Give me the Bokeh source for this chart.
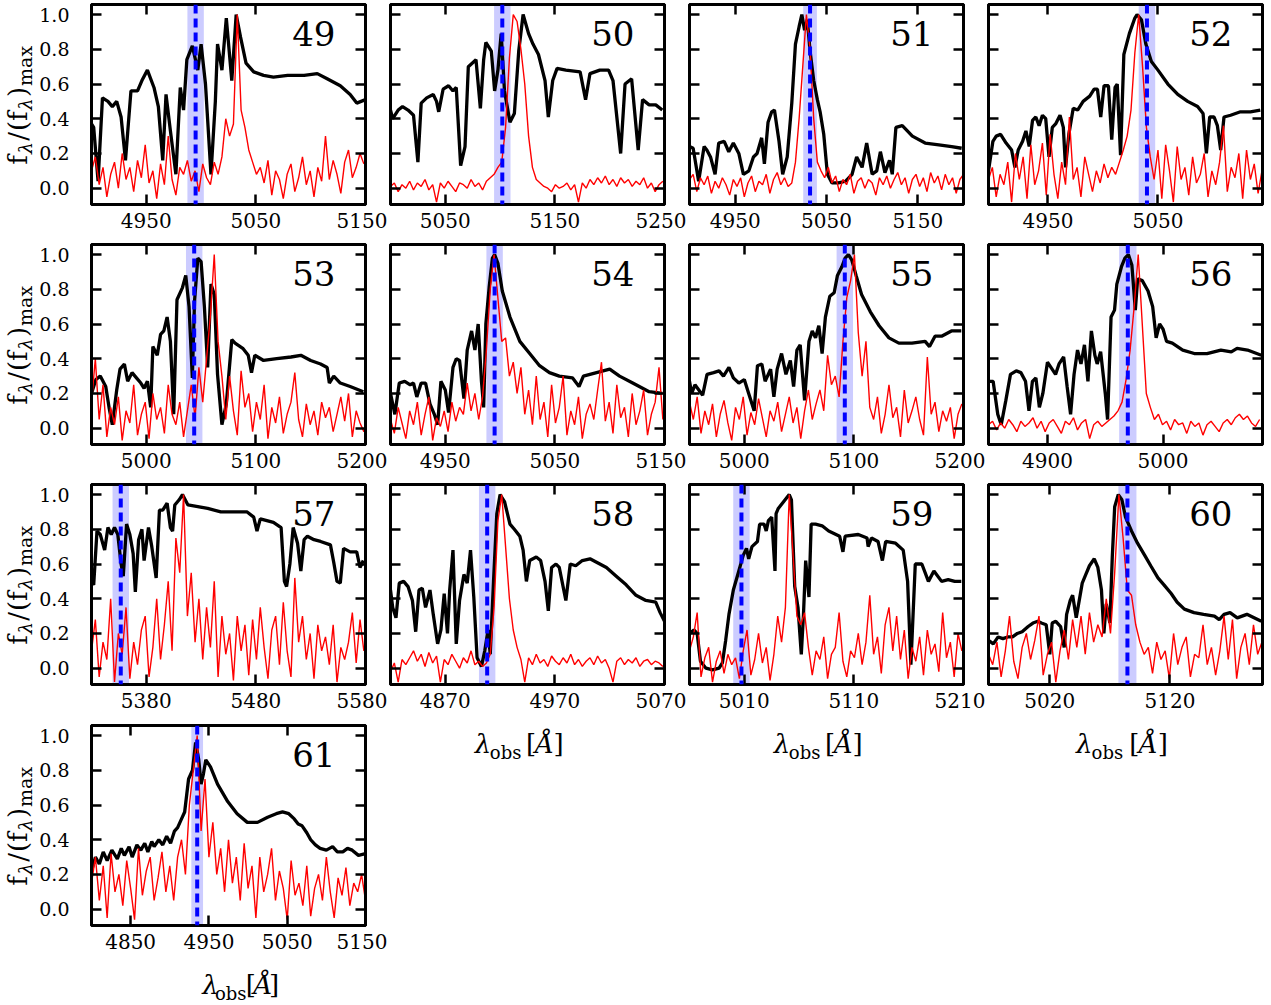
import math
from bokeh.plotting import figure
from bokeh.layouts import row, column
from bokeh.models import (Range1d, FixedTicker, PrintfTickFormatter, LinearAxis,
                          Label, Span, BoxAnnotation)
from bokeh.embed import file_html
from bokeh.resources import INLINE

# ---------------- data ----------------
PANEL_IDS = [49, 50, 51, 52, 53, 54, 55, 56, 57, 58, 59, 60, 61]
X_RANGES = {49: (4900, 5150), 50: (5000, 5250), 51: (4900, 5200), 52: (4896, 5145),
            53: (4950, 5200), 54: (4900, 5150), 55: (4950, 5200), 56: (4849, 5086),
            57: (5330, 5580), 58: (4820, 5070), 59: (4960, 5210), 60: (4969, 5197),
            61: (4800, 5150)}
X_TICKS = {49: [4950, 5050, 5150], 50: [5050, 5150, 5250], 51: [4950, 5050, 5150],
           52: [4950, 5050], 53: [5000, 5100, 5200], 54: [4950, 5050, 5150],
           55: [5000, 5100, 5200], 56: [4900, 5000], 57: [5380, 5480, 5580],
           58: [4870, 4970, 5070], 59: [5010, 5110, 5210], 60: [5020, 5120],
           61: [4850, 4950, 5050, 5150]}
LINE_CENTER = {49: 4995, 50: 5102, 51: 5032, 52: 5040, 53: 5043.7, 54: 4995, 55: 5091.7,
               56: 4969.5, 57: 5356.7, 58: 4908.2, 59: 5007.4, 60: 5084.6, 61: 4935}
BAND_HALF_WIDTH = 7.5
Y_TICKS = [0.0, 0.2, 0.4, 0.6, 0.8, 1.0]

# black (broad-band) spectra: wavelength / normalised flux
B49_WL = [4900,4902,4906,4910,4915,4919,4923,4927,4931,4936,4942,4946,4951,4957,4961,4965,4968,4972,4977,4981,4984,4987,4992,4997,5000,5004,5009,5013,5015,5019,5023,5028,5032,5036,5041,5048,5057,5066,5079,5094,5106,5115,5127,5136,5142,5150]
B49_FL = [0.37,0.35,0.04,0.52,0.50,0.47,0.50,0.41,0.16,0.56,0.56,0.62,0.68,0.58,0.47,0.16,0.54,0.33,0.08,0.58,0.45,0.74,0.82,0.68,0.83,0.60,0.08,0.50,0.83,0.68,0.98,0.62,1.00,0.87,0.72,0.67,0.65,0.64,0.65,0.65,0.66,0.63,0.59,0.54,0.49,0.51]
B50_WL = [5000,5002,5007,5011,5016,5021,5025,5028,5033,5039,5042,5044,5048,5053,5057,5060,5064,5068,5071,5078,5082,5085,5087,5092,5095,5098,5101,5104,5109,5113,5117,5121,5126,5130,5135,5141,5144,5148,5152,5160,5173,5178,5182,5191,5199,5203,5210,5214,5220,5226,5230,5236,5242,5248]
B50_FL = [0.45,0.40,0.45,0.47,0.45,0.42,0.15,0.49,0.52,0.54,0.50,0.44,0.57,0.59,0.56,0.58,0.13,0.24,0.70,0.74,0.46,0.74,0.84,0.79,0.56,0.68,0.89,0.56,0.38,0.43,0.79,1.00,0.89,0.83,0.77,0.62,0.41,0.62,0.69,0.68,0.67,0.51,0.66,0.68,0.68,0.62,0.20,0.60,0.63,0.22,0.51,0.48,0.48,0.45]
B51_WL = [4900,4904,4910,4916,4919,4923,4928,4932,4938,4943,4948,4954,4959,4965,4970,4974,4979,4982,4986,4990,4993,4998,5002,5007,5012,5016,5020,5023,5026,5029,5032,5036,5040,5043,5047,5051,5056,5063,5071,5078,5083,5089,5094,5100,5105,5109,5114,5119,5122,5126,5133,5144,5158,5173,5187,5198]
B51_FL = [0.24,0.23,0.04,0.24,0.22,0.18,0.08,0.26,0.27,0.21,0.26,0.20,0.08,0.10,0.18,0.20,0.29,0.14,0.38,0.44,0.45,0.27,0.08,0.18,0.49,0.83,0.93,1.00,0.91,0.97,0.79,0.62,0.51,0.44,0.31,0.08,0.03,0.03,0.04,0.08,0.18,0.12,0.26,0.08,0.10,0.21,0.09,0.16,0.08,0.35,0.36,0.30,0.26,0.25,0.24,0.23]
B52_WL = [4896,4900,4903,4907,4912,4917,4920,4923,4927,4930,4933,4936,4939,4942,4945,4948,4951,4954,4957,4961,4964,4966,4969,4973,4977,4982,4988,4992,4995,4998,5001,5005,5008,5011,5013,5016,5019,5024,5029,5031,5035,5039,5044,5050,5059,5068,5077,5086,5091,5094,5097,5101,5104,5107,5110,5116,5125,5134,5143]
B52_FL = [0.10,0.27,0.30,0.31,0.26,0.22,0.12,0.22,0.27,0.33,0.24,0.39,0.41,0.36,0.42,0.40,0.18,0.35,0.37,0.42,0.35,0.12,0.31,0.46,0.45,0.50,0.53,0.57,0.57,0.41,0.59,0.59,0.28,0.58,0.60,0.19,0.77,0.89,0.98,1.00,0.97,0.83,0.73,0.68,0.60,0.54,0.50,0.47,0.43,0.20,0.41,0.41,0.36,0.22,0.41,0.42,0.44,0.44,0.45]
B53_WL = [4950,4954,4958,4963,4966,4969,4973,4976,4980,4983,4987,4991,4995,4998,5001,5004,5006,5010,5013,5016,5019,5022,5025,5028,5033,5036,5039,5042,5044,5047,5050,5053,5056,5059,5062,5065,5069,5073,5078,5081,5088,5093,5096,5099,5107,5119,5132,5141,5150,5159,5165,5167,5171,5177,5186,5198]
B53_FL = [0.20,0.28,0.30,0.24,0.12,0.02,0.22,0.34,0.37,0.27,0.32,0.29,0.26,0.23,0.27,0.12,0.47,0.42,0.54,0.56,0.64,0.50,0.08,0.74,0.81,0.88,0.70,0.29,0.73,0.98,0.96,0.70,0.35,0.83,0.77,0.31,0.02,0.14,0.51,0.49,0.46,0.42,0.32,0.42,0.39,0.40,0.41,0.42,0.39,0.37,0.35,0.26,0.30,0.26,0.24,0.21]
B54_WL = [4900,4904,4908,4913,4918,4921,4924,4928,4932,4936,4940,4943,4946,4950,4953,4957,4960,4963,4967,4970,4974,4977,4980,4983,4985,4987,4990,4993,4995,4998,5002,5009,5018,5027,5036,5045,5054,5066,5072,5076,5088,5100,5109,5121,5136,5148]
B54_FL = [0.20,0.08,0.26,0.27,0.25,0.26,0.18,0.26,0.26,0.14,0.08,0.02,0.27,0.22,0.09,0.35,0.40,0.39,0.17,0.45,0.56,0.45,0.60,0.27,0.12,0.60,0.81,0.98,1.00,0.95,0.79,0.64,0.50,0.43,0.36,0.32,0.30,0.29,0.24,0.30,0.32,0.34,0.30,0.26,0.21,0.20]
B55_WL = [4950,4952,4955,4962,4966,4972,4977,4981,4986,4990,4995,5000,5004,5009,5012,5016,5019,5024,5027,5030,5034,5038,5042,5045,5048,5051,5055,5059,5062,5065,5068,5071,5074,5078,5082,5085,5089,5092,5095,5098,5102,5107,5115,5123,5132,5141,5153,5165,5169,5174,5180,5189,5198]
B55_FL = [0.27,0.20,0.25,0.19,0.31,0.32,0.33,0.30,0.35,0.29,0.26,0.28,0.20,0.10,0.36,0.37,0.27,0.34,0.18,0.34,0.43,0.31,0.39,0.24,0.45,0.48,0.16,0.50,0.56,0.52,0.59,0.43,0.64,0.76,0.78,0.88,0.93,0.98,1.00,0.97,0.88,0.77,0.67,0.59,0.52,0.49,0.49,0.50,0.47,0.53,0.53,0.56,0.56]
B56_WL = [4849,4853,4857,4860,4864,4868,4873,4877,4881,4884,4887,4890,4893,4896,4900,4903,4907,4910,4914,4917,4920,4923,4926,4929,4932,4935,4938,4941,4943,4946,4950,4952,4955,4958,4960,4964,4967,4970,4973,4976,4978,4982,4987,4991,4994,4997,5000,5003,5008,5017,5027,5038,5050,5059,5064,5073,5085]
B56_FL = [0.27,0.27,0.08,0.02,0.16,0.31,0.33,0.32,0.27,0.10,0.27,0.29,0.12,0.20,0.38,0.35,0.31,0.37,0.41,0.24,0.08,0.31,0.45,0.37,0.48,0.27,0.56,0.42,0.37,0.44,0.20,0.05,0.64,0.68,0.83,0.93,0.98,1.00,0.94,0.68,0.86,0.85,0.79,0.70,0.52,0.60,0.57,0.50,0.49,0.45,0.43,0.43,0.45,0.44,0.46,0.45,0.42]
B57_WL = [5330,5332,5335,5338,5342,5345,5348,5351,5354,5357,5359,5362,5365,5368,5370,5373,5376,5378,5382,5385,5389,5392,5395,5399,5402,5404,5406,5410,5413,5418,5427,5436,5448,5460,5472,5478,5481,5484,5496,5503,5506,5508,5511,5514,5518,5521,5524,5527,5533,5539,5548,5551,5554,5557,5560,5566,5572,5575,5578]
B57_FL = [0.50,0.48,0.79,0.77,0.68,0.81,0.77,0.81,0.77,0.60,0.53,0.83,0.77,0.66,0.44,0.74,0.80,0.62,0.81,0.70,0.52,0.91,0.91,0.95,0.81,0.79,0.94,0.97,1.00,0.94,0.93,0.92,0.90,0.90,0.90,0.87,0.79,0.86,0.84,0.81,0.50,0.47,0.60,0.81,0.72,0.56,0.74,0.76,0.74,0.73,0.71,0.61,0.50,0.49,0.69,0.67,0.67,0.58,0.62]
B58_WL = [4820,4822,4825,4828,4832,4836,4840,4843,4846,4849,4852,4856,4859,4863,4866,4869,4872,4874,4877,4880,4883,4887,4890,4893,4896,4899,4903,4906,4909,4911,4914,4917,4920,4924,4929,4933,4938,4941,4944,4947,4953,4957,4961,4964,4967,4971,4974,4980,4984,4989,4995,5002,5008,5017,5026,5035,5044,5053,5062,5066,5070]
B58_FL = [0.45,0.35,0.29,0.49,0.50,0.47,0.39,0.21,0.45,0.46,0.35,0.45,0.31,0.14,0.22,0.43,0.20,0.45,0.68,0.14,0.39,0.54,0.49,0.68,0.41,0.06,0.01,0.10,0.22,0.08,0.50,0.89,1.00,0.96,0.83,0.80,0.76,0.68,0.50,0.62,0.64,0.62,0.50,0.33,0.58,0.60,0.58,0.39,0.60,0.59,0.62,0.63,0.61,0.58,0.53,0.48,0.42,0.39,0.38,0.32,0.27]
B59_WL = [4960,4964,4967,4970,4975,4981,4987,4990,4993,4996,5000,5005,5009,5012,5014,5017,5022,5024,5028,5030,5032,5035,5038,5039,5041,5046,5051,5053,5056,5059,5062,5064,5066,5069,5071,5075,5081,5087,5097,5100,5102,5114,5122,5123,5126,5132,5136,5139,5148,5155,5159,5162,5166,5172,5178,5183,5190,5196,5202,5208]
B59_FL = [0.20,0.22,0.20,0.04,0.00,-0.01,0.00,0.03,0.16,0.31,0.45,0.56,0.65,0.69,0.63,0.70,0.73,0.83,0.83,0.79,0.85,0.87,0.56,0.89,0.92,0.96,1.00,0.97,0.47,0.35,0.08,0.31,0.62,0.41,0.83,0.83,0.82,0.79,0.76,0.67,0.76,0.77,0.75,0.70,0.75,0.73,0.62,0.73,0.72,0.68,0.50,0.02,0.60,0.60,0.50,0.56,0.50,0.51,0.50,0.50]
B60_WL = [4969,4973,4977,4981,4985,4989,4993,4997,5002,5006,5010,5013,5017,5020,5022,5025,5029,5032,5034,5037,5039,5042,5044,5047,5050,5053,5057,5060,5063,5065,5067,5070,5072,5074,5077,5080,5083,5088,5093,5099,5104,5110,5115,5121,5126,5132,5140,5148,5157,5161,5165,5170,5176,5184,5196]
B60_FL = [0.16,0.14,0.18,0.17,0.18,0.18,0.20,0.21,0.24,0.26,0.27,0.26,0.25,0.08,0.26,0.27,0.24,0.12,0.31,0.39,0.42,0.29,0.37,0.49,0.54,0.59,0.63,0.58,0.45,0.20,0.37,0.26,0.64,0.93,1.00,0.97,0.87,0.79,0.72,0.65,0.59,0.52,0.48,0.43,0.38,0.34,0.32,0.31,0.30,0.28,0.31,0.32,0.29,0.31,0.27]
B61_WL = [4800,4805,4810,4815,4820,4826,4833,4838,4842,4848,4852,4858,4863,4868,4872,4877,4880,4886,4891,4896,4901,4906,4910,4915,4919,4924,4929,4933,4937,4940,4943,4946,4952,4961,4974,4986,4999,5012,5025,5036,5044,5052,5059,5064,5069,5075,5080,5086,5092,5100,5108,5114,5121,5127,5133,5141,5150]
B61_FL = [0.22,0.30,0.26,0.33,0.28,0.34,0.29,0.35,0.31,0.36,0.30,0.37,0.34,0.38,0.33,0.39,0.36,0.40,0.37,0.42,0.38,0.45,0.47,0.52,0.56,0.75,0.80,0.96,0.86,0.72,0.78,0.86,0.82,0.72,0.62,0.55,0.50,0.50,0.53,0.55,0.56,0.55,0.52,0.49,0.48,0.44,0.40,0.37,0.35,0.34,0.36,0.33,0.33,0.35,0.34,0.31,0.32]

# red (narrow-band) spectra: start wavelength, step, normalised flux
R_START = {49: 4900, 50: 5000, 51: 4900, 52: 4896, 53: 4950, 54: 4900, 55: 4950,
           56: 4849, 57: 5330, 58: 4820, 59: 4960, 60: 4969, 61: 4800}
R_STEP = {49: 3.5, 50: 3.5, 51: 4.0, 52: 3.5, 53: 3.5, 54: 3.5, 55: 3.5,
          56: 3.5, 57: 3.5, 58: 3.5, 59: 3.5, 60: 3.5, 61: 5.0}
R49 = [0.10,0.18,0.02,0.12,-0.05,0.08,0.15,0.00,0.20,0.05,0.12,-0.02,0.16,0.06,0.25,0.03,0.10,-0.06,0.14,0.02,0.30,0.05,-0.04,0.12,0.08,0.16,0.04,0.10,-0.02,0.14,0.06,0.02,0.15,0.08,0.18,0.40,0.30,0.37,1.00,0.45,0.35,0.22,0.15,0.08,0.12,0.03,0.16,-0.04,0.10,0.05,-0.06,0.08,0.14,-0.02,0.06,0.18,0.02,0.10,-0.05,0.12,0.04,0.30,0.05,0.16,0.08,-0.03,0.15,0.22,0.06,0.12,0.20,0.14]
R50 = [0.01,0.03,-0.02,0.02,0.00,0.04,-0.01,0.03,0.01,0.05,-0.01,0.02,-0.08,0.03,0.00,0.04,0.01,-0.02,0.03,0.02,0.00,0.05,0.01,0.03,-0.01,0.04,0.06,0.08,0.12,0.15,0.35,0.75,1.00,0.96,0.80,0.60,0.30,0.12,0.05,0.03,0.01,0.00,-0.02,0.02,0.00,0.01,0.03,-0.01,0.02,-0.08,0.03,0.00,0.05,0.02,0.06,0.03,0.07,0.02,0.05,0.01,0.06,0.03,0.05,0.01,0.04,0.02,0.06,0.00,0.03,-0.02,0.02,0.04]
R51 = [0.05,0.08,-0.02,0.06,0.02,0.07,-0.03,0.04,0.00,0.06,0.02,-0.04,0.05,0.01,0.06,-0.05,0.03,0.07,-0.02,0.04,0.02,0.08,-0.03,0.05,0.09,0.02,0.06,0.01,0.03,0.15,0.40,0.70,1.00,0.80,0.40,0.15,0.10,0.06,0.12,0.03,0.07,-0.02,0.05,0.02,0.08,-0.03,0.04,0.06,0.00,0.05,0.03,-0.04,0.06,0.02,0.07,0.00,0.05,0.09,0.02,0.06,-0.03,0.05,0.08,0.01,0.06,-0.02,0.09,0.03,0.07,-0.01,0.08,0.02,0.06,-0.03,0.05,0.08]
R52 = [0.05,0.12,-0.05,0.08,0.02,0.15,-0.08,0.20,0.05,0.18,-0.06,0.25,0.02,0.10,0.26,-0.04,0.31,0.08,-0.06,0.15,0.02,0.41,0.05,0.12,-0.05,0.18,0.08,-0.02,0.10,0.03,0.14,0.06,0.12,0.08,0.15,0.22,0.30,0.45,0.78,1.00,0.70,0.35,0.18,0.05,0.22,-0.06,0.25,0.10,-0.08,0.24,0.05,0.12,-0.04,0.18,0.03,0.08,0.20,-0.05,0.10,0.02,0.15,0.36,-0.02,0.12,0.06,0.20,-0.06,0.22,0.05,0.14,-0.03,0.10,0.18]
R53 = [0.15,0.40,0.05,0.25,-0.05,0.12,0.02,0.18,-0.07,0.10,0.03,0.25,-0.04,0.08,0.15,-0.06,0.20,0.05,0.12,-0.03,0.25,0.08,0.02,0.15,-0.05,0.10,0.25,0.06,0.35,0.15,0.40,0.65,1.00,0.50,0.30,0.05,0.30,0.10,-0.04,0.33,0.12,0.20,-0.02,0.15,0.05,0.25,-0.06,0.12,0.03,0.18,-0.03,0.08,0.15,0.32,0.05,-0.05,0.14,0.02,0.10,-0.04,0.15,0.06,0.12,-0.02,0.08,0.18,0.04,0.20,-0.05,0.10,0.03,-0.02,0.05]
R54 = [0.05,-0.03,0.12,0.03,-0.06,0.10,0.02,0.15,-0.04,0.08,0.18,-0.07,0.06,0.01,0.10,-0.02,0.15,0.04,0.12,0.08,0.26,0.10,0.20,0.05,0.18,0.45,0.80,1.00,0.75,0.50,0.52,0.30,0.38,0.20,0.35,0.08,0.22,0.02,0.30,0.05,0.15,-0.05,0.25,0.03,0.12,0.30,-0.04,0.10,0.02,0.18,-0.06,0.08,0.14,0.05,0.22,0.38,0.04,0.15,-0.03,0.25,0.06,0.12,-0.05,0.20,0.02,0.10,0.22,-0.04,0.08,0.15,0.35,0.05]
R55 = [0.15,0.05,0.18,-0.03,0.10,0.02,0.14,-0.05,0.08,0.16,0.03,-0.07,0.12,0.05,0.18,-0.04,0.09,0.02,0.17,0.06,-0.05,0.10,0.04,0.15,-0.02,0.08,0.18,0.03,0.12,-0.06,0.10,0.22,0.05,0.14,0.22,0.10,0.42,0.25,0.30,0.18,0.50,0.75,0.85,1.00,0.55,0.30,0.50,0.12,0.05,0.18,-0.03,0.08,0.25,0.06,0.12,-0.05,0.22,0.03,0.10,0.18,0.05,-0.04,0.41,0.08,0.15,-0.02,0.10,0.04,0.12,-0.06,0.08,0.14]
R56 = [0.02,0.04,-0.01,0.03,0.00,0.05,0.02,-0.02,0.04,0.01,0.03,0.06,0.00,0.04,-0.02,0.03,0.05,0.01,-0.03,0.04,0.02,0.06,-0.01,0.03,0.05,-0.06,0.02,0.04,0.01,0.03,0.05,0.07,0.10,0.15,0.28,0.45,0.70,1.00,0.60,0.20,0.12,0.05,0.08,0.02,0.04,-0.01,0.05,0.02,0.03,-0.03,0.04,0.01,0.03,-0.04,0.02,0.04,0.01,-0.02,0.03,0.05,0.02,0.06,0.08,0.05,0.07,0.03,0.01,0.05]
R57 = [0.10,0.28,-0.05,0.15,0.05,0.40,-0.08,0.20,0.08,0.35,-0.06,0.15,0.02,0.22,0.30,-0.05,0.12,0.40,0.05,0.25,0.50,0.10,0.75,0.55,1.00,0.30,0.55,0.15,0.40,0.05,0.35,0.12,0.50,-0.05,0.30,0.08,0.20,-0.07,0.30,0.10,0.25,-0.04,0.28,0.05,0.35,0.12,-0.06,0.22,0.30,0.02,0.38,0.10,-0.05,0.52,0.15,0.30,0.05,0.20,-0.06,0.25,0.10,0.18,0.02,0.25,-0.08,0.12,0.05,0.15,0.32,0.03,0.28,0.10]
R58 = [-0.02,0.03,-0.08,0.05,0.02,0.06,0.10,0.04,0.08,0.01,0.09,0.03,0.07,-0.08,0.05,0.02,0.08,0.04,0.00,0.06,0.03,0.10,0.02,0.04,0.01,0.03,0.08,0.35,0.85,1.00,0.70,0.40,0.22,0.12,0.05,-0.08,0.06,0.02,0.08,0.03,0.05,0.01,0.07,0.04,0.02,0.06,0.03,0.08,0.02,0.05,0.01,0.04,0.06,0.02,0.07,0.03,0.05,0.00,-0.08,0.04,0.06,0.02,0.05,0.03,0.06,0.01,0.04,0.05,0.02,0.04,0.03,0.01]
R59 = [0.10,0.18,0.32,-0.05,0.06,0.12,-0.08,0.04,0.10,-0.03,0.08,0.02,0.06,-0.06,0.10,0.22,-0.04,0.05,0.20,0.03,0.12,-0.07,0.08,0.30,0.15,0.35,1.00,0.65,0.30,0.25,0.32,0.12,-0.04,0.10,0.05,0.18,-0.06,0.08,0.12,0.32,0.04,-0.05,0.10,0.06,0.20,0.02,0.15,0.42,0.08,0.18,-0.03,0.25,0.35,0.10,0.30,0.05,0.22,-0.06,0.12,0.04,0.18,-0.04,0.22,0.08,0.14,-0.02,0.32,0.06,0.15,-0.05,0.20,0.10]
R60 = [0.08,0.02,0.15,-0.05,0.10,0.30,0.04,-0.06,0.12,0.20,0.05,0.16,0.30,-0.04,0.08,0.15,-0.08,0.10,0.22,0.05,0.28,0.12,0.30,0.08,0.32,0.15,0.25,0.18,0.40,0.20,0.55,1.00,0.75,0.45,0.42,0.25,0.15,0.08,0.12,-0.03,0.15,0.05,0.10,-0.06,0.20,0.02,0.12,0.18,-0.05,0.08,0.06,0.25,0.02,0.12,-0.04,0.10,0.30,0.05,0.28,-0.06,0.12,0.20,0.02,0.25,0.08,0.15]
R61 = [0.15,0.30,0.05,0.25,-0.05,0.32,0.10,0.20,0.02,0.28,0.12,-0.06,0.35,0.08,0.22,0.30,0.05,0.18,0.33,0.10,0.25,0.05,0.30,0.40,0.20,0.60,0.80,1.00,0.45,0.75,0.30,0.50,0.20,0.35,0.10,0.40,0.15,0.30,0.05,0.38,0.12,0.25,-0.05,0.30,0.10,0.20,0.35,0.05,0.22,0.12,-0.06,0.28,0.08,0.15,0.02,0.25,-0.04,0.12,0.20,0.05,0.30,0.10,-0.05,0.18,0.08,0.24,0.02,0.15,0.10,0.20,0.05,0.12]

BLACK = {49: (B49_WL, B49_FL), 50: (B50_WL, B50_FL), 51: (B51_WL, B51_FL), 52: (B52_WL, B52_FL),
         53: (B53_WL, B53_FL), 54: (B54_WL, B54_FL), 55: (B55_WL, B55_FL), 56: (B56_WL, B56_FL),
         57: (B57_WL, B57_FL), 58: (B58_WL, B58_FL), 59: (B59_WL, B59_FL), 60: (B60_WL, B60_FL),
         61: (B61_WL, B61_FL)}
RED = {49: R49, 50: R50, 51: R51, 52: R52, 53: R53, 54: R54, 55: R55, 56: R56,
       57: R57, 58: R58, 59: R59, 60: R60, 61: R61}

# ---------------- styling / layout ----------------
FONT = "DejaVu Serif"
FW, FH = 274, 200
YMIN, YMAX = -0.094, 1.058
COLUMNS = [[49, 53, 57, 61], [50, 54, 58], [51, 55, 59], [52, 56, 60]]
YLAB_W = 36            # width of the strip that holds the rotated y labels
XLAB_H = 44            # height of the strip that holds the x labels
FRAME_TOPS = [4, 244, 484, 725]
TOTAL_H = 1005
BASELINE_FIX = 0.36    # rendered alphabetic baseline sits this many em below the anchor
ADV = {'f': 0.37, 'λ': 0.59, '/': 0.337, '(': 0.39, ')': 0.39, 'm': 0.948, 'a': 0.596,
       'x': 0.645, 'o': 0.602, 'b': 0.64, 's': 0.513, '[': 0.39, ']': 0.39, 'Å': 0.722}


def text_width(t, size):
    return sum(ADV.get(ch, 0.6) for ch in t) * size


def style_axis(ax, ticks, show_labels):
    ax.ticker = FixedTicker(ticks=ticks)
    ax.axis_line_width = 3
    ax.axis_line_color = "black"
    ax.major_tick_in = 10
    ax.major_tick_out = 0
    ax.major_tick_line_width = 2.5
    ax.major_tick_line_color = "black"
    ax.minor_tick_line_color = None
    ax.major_label_text_font = FONT
    if show_labels:
        ax.major_label_text_font_size = "20px"
        ax.major_label_text_color = "black"
    else:
        ax.major_label_text_font_size = "1px"
        ax.major_label_text_color = None
        ax.major_label_standoff = 0


def text_strip(width, height):
    s = figure(width=width, height=height, x_range=Range1d(0, width), y_range=Range1d(0, height),
               output_backend="svg", toolbar_location=None,
               x_axis_location=None, y_axis_location=None,
               min_border_left=0, min_border_right=0, min_border_top=0, min_border_bottom=0)
    s.xgrid.visible = False
    s.ygrid.visible = False
    s.outline_line_color = None
    s.background_fill_color = "white"
    s.border_fill_color = "white"
    return s


def make_panel(pid, col, rowi):
    xmin, xmax = X_RANGES[pid]
    ppy = FH / (YMAX - YMIN)
    ppx = FW / (xmax - xmin)
    left = 89 - YLAB_W if col == 0 else 3
    right = 11 if col == 3 else 22
    top = FRAME_TOPS[rowi] - (FRAME_TOPS[rowi - 1] + FH + 36 if rowi > 0 else 0)
    p = figure(frame_width=FW, frame_height=FH,
               x_range=Range1d(xmin, xmax), y_range=Range1d(YMIN, YMAX),
               output_backend="svg", toolbar_location=None,
               min_border_left=left, min_border_right=right,
               min_border_top=top, min_border_bottom=36)
    p.xgrid.visible = False
    p.ygrid.visible = False
    p.background_fill_color = "white"
    p.border_fill_color = "white"
    p.outline_line_color = "black"
    p.outline_line_width = 3

    style_axis(p.xaxis[0], X_TICKS[pid], True)
    p.xaxis[0].major_label_standoff = 8
    p.xaxis[0].formatter = PrintfTickFormatter(format="%d")
    style_axis(p.yaxis[0], Y_TICKS, col == 0)
    p.yaxis[0].formatter = PrintfTickFormatter(format="%.1f")
    if col == 0:
        p.yaxis[0].major_label_text_font_size = "19px"
        p.yaxis[0].major_label_standoff = 22
    top_ax = LinearAxis()
    style_axis(top_ax, X_TICKS[pid], False)
    p.add_layout(top_ax, "above")
    right_ax = LinearAxis()
    style_axis(right_ax, Y_TICKS, False)
    p.add_layout(right_ax, "right")

    c = LINE_CENTER[pid]
    p.add_layout(BoxAnnotation(left=c - BAND_HALF_WIDTH, right=c + BAND_HALF_WIDTH,
                               fill_color="#0000ff", fill_alpha=0.2, line_color=None,
                               level="underlay"))
    bw, bf = BLACK[pid]
    n = min(len(bw), len(bf))
    p.line(bw[:n], bf[:n], line_color="black", line_width=3.3)
    rv = RED[pid]
    rx = [R_START[pid] + R_STEP[pid] * i for i in range(len(rv))]
    p.line(rx, rv, line_color="#ff0000", line_width=1.4)
    p.add_layout(Span(location=c, dimension="height", line_color="#0000ff",
                      line_width=4, line_dash="9 5"))

    num_size = 34
    p.add_layout(Label(x=xmax - 30 / ppx, y=YMAX - (41 - BASELINE_FIX * num_size) / ppy,
                       text=str(pid), text_align="right", text_baseline="alphabetic",
                       text_font=FONT, text_font_size=f"{num_size}px", text_color="black"))
    return p


def make_xlabel_strip(width, frame_left):
    s = text_strip(width, XLAB_H)
    main, sub = 26, 18
    # (text, size, style, drop below baseline, gap before)
    pieces = [("λ", main, "italic", 0, 0), ("obs", sub, "normal", 5, 1),
              ("[", main, "normal", 0, 8), ("Å", main, "italic", 0, 0), ("]", main, "normal", 0, 1)]
    total = sum(text_width(t, sz) + g for t, sz, _, _, g in pieces)
    pos = frame_left + FW / 2 - total / 2
    base = 11
    for t, sz, st, sh, g in pieces:
        pos += g
        s.add_layout(Label(x=pos, y=base - sh + BASELINE_FIX * sz, text=t, text_align="left",
                           text_baseline="alphabetic", text_font=FONT,
                           text_font_size=f"{sz}px", text_font_style=st, text_color="black"))
        pos += text_width(t, sz)
    return s


def make_ylabel_strip():
    s = text_strip(YLAB_W, TOTAL_H)
    main, sub = 26, 19
    pieces = [("f", main, "normal", 0, 0), ("λ", sub, "italic", 4, 1), ("/", main, "normal", 0, 2),
              ("(", main, "normal", 0, 1), ("f", main, "normal", 0, 0), ("λ", sub, "italic", 4, 1),
              (")", main, "normal", 0, 2), ("max", sub, "normal", 4, 1)]
    total = sum(text_width(t, sz) + g for t, sz, _, _, g in pieces)
    base_x = 27
    for ft in FRAME_TOPS:
        center = TOTAL_H - (ft + FH / 2)
        pos = center - total / 2
        for t, sz, st, sh, g in pieces:
            pos += g
            s.add_layout(Label(x=base_x + sh - BASELINE_FIX * sz, y=pos, text=t, angle=math.pi / 2,
                               text_align="left", text_baseline="alphabetic", text_font=FONT,
                               text_font_size=f"{sz}px", text_font_style=st, text_color="black"))
            pos += text_width(t, sz)
    return s


cols = []
for ci, ids in enumerate(COLUMNS):
    figs = [make_panel(pid, ci, ri) for ri, pid in enumerate(ids)]
    frame_left = 89 - YLAB_W if ci == 0 else 3
    width = frame_left + FW + (11 if ci == 3 else 22)
    figs.append(make_xlabel_strip(width, frame_left))
    cols.append(column(figs, spacing=0))
layout = row([make_ylabel_strip()] + cols, spacing=0)

open("out.html", "w").write(file_html(layout, INLINE, title="spectra"))
